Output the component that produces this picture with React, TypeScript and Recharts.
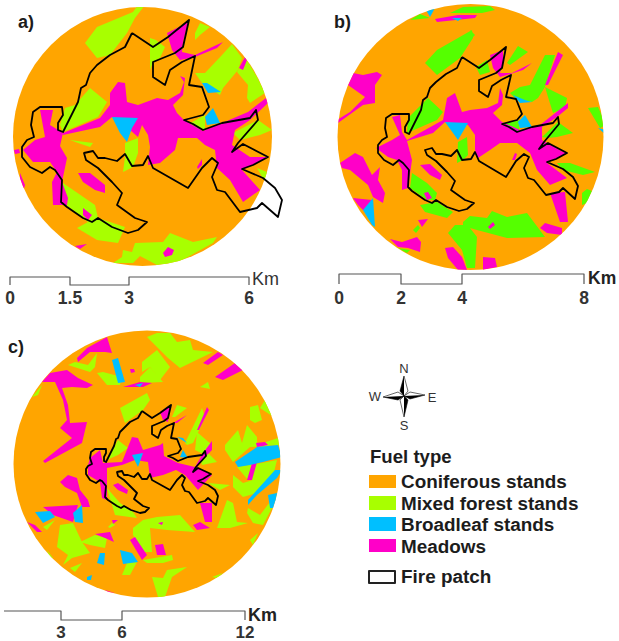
import React from 'react'
import { ScatterChart, Scatter, XAxis, YAxis } from 'recharts'

const WIDTH = 619
const HEIGHT = 641

type Ring = number[][]

const ORANGE = '#FFA500'
const LIME = '#A8FF00'
const BRIGHT_GREEN = '#55FF00'
const BLUE = '#00BFFF'
const MAGENTA = '#FF00C8'

// panel a) map units are picture pixels
const aBase: Ring = [[0, 0], [290, 0], [290, 280], [0, 280]]
const aMixed: Ring[] = [
  [[85, 43], [97, 27], [133, 12], [138, 5], [145, 5], [135, 18], [127, 33], [110, 55], [97, 58]],
  [[90, 88], [107, 102], [98, 117], [63, 132], [60, 125], [65, 108], [75, 105]],
  [[150, 38], [156, 40], [165, 47], [160, 58], [153, 62], [150, 70], [150, 50]],
  [[195, 33], [200, 23], [210, 27], [200, 35], [195, 40]],
  [[195, 73], [205, 73], [222, 55], [232, 44], [242, 58], [238, 70], [223, 88], [220, 95], [202, 83]],
  [[237, 72], [248, 85], [247, 98], [250, 103], [265, 93], [257, 77], [245, 57]],
  [[187, 125], [205, 115], [205, 130], [192, 133]],
  [[233, 133], [258, 120], [272, 130], [260, 135], [240, 140]],
  [[257, 168], [267, 172], [265, 182]],
  [[63, 183], [95, 205], [98, 218], [125, 227], [118, 243], [97, 240], [77, 228], [88, 222], [60, 200]],
  [[122, 257], [123, 250], [132, 252], [135, 243], [163, 242], [170, 233], [193, 242], [217, 237], [213, 243], [177, 263], [157, 265], [140, 256], [133, 263], [113, 263]],
  [[70, 140], [93, 143], [90, 147], [78, 143]],
  [[125, 143], [138, 138], [138, 153], [133, 167], [123, 172], [125, 157]],
]
const aMeadow: Ring[] = [
  [[40, 110], [53, 110], [50, 125], [63, 133], [60, 146], [67, 158], [62, 182], [68, 198], [67, 205], [53, 205], [52, 182], [57, 172], [50, 162], [33, 162], [23, 150], [35, 140], [45, 137]],
  [[63, 133], [100, 118], [110, 105], [110, 93], [118, 82], [125, 83], [127, 102], [138, 105], [157, 98], [168, 100], [180, 93], [184, 82], [180, 76], [185, 78], [183, 95], [173, 105], [177, 113], [184, 120], [203, 131], [222, 123], [248, 112], [266, 98], [268, 103], [250, 120], [235, 130], [232, 145], [250, 157], [268, 157], [242, 170], [260, 190], [243, 202], [230, 180], [217, 168], [215, 150], [205, 145], [197, 138], [178, 138], [175, 150], [160, 163], [148, 165], [150, 147], [148, 135], [142, 125], [138, 137], [130, 130], [112, 117], [100, 127], [63, 135]],
  [[14, 150], [19, 149], [20, 153], [15, 154]],
  [[20, 173], [25, 185], [23, 192], [20, 182]],
  [[78, 173], [90, 173], [105, 185], [105, 193], [95, 190], [83, 182]],
  [[83, 208], [92, 215], [88, 220], [83, 215]],
  [[75, 246], [87, 244], [80, 249]],
  [[163, 253], [168, 247], [174, 250], [172, 255], [165, 257]],
  [[197, 167], [202, 159], [202, 165], [198, 169]],
  [[167, 33], [183, 25], [188, 22], [183, 42], [182, 52], [195, 55], [223, 42], [217, 48], [195, 57], [180, 60], [172, 50]],
  [[245, 57], [247, 60], [243, 70], [239, 68]],
]
const aBroadleaf: Ring[] = [
  [[112, 117], [138, 118], [132, 128], [127, 142], [120, 133]],
  [[202, 83], [207, 83], [221, 92], [208, 93]],
  [[205, 117], [213, 108], [220, 123], [207, 125]],
]
const aFire: Ring = [[132, 33], [125, 47], [110, 55], [97, 65], [90, 73], [86, 85], [81, 88], [78, 102], [63, 132], [58, 130], [58, 123], [63, 115], [62, 107], [40, 107], [33, 112], [31, 125], [34, 137], [27, 140], [22, 147], [22, 157], [30, 167], [42, 173], [50, 167], [55, 170], [62, 180], [61, 202], [67, 207], [83, 218], [92, 222], [98, 218], [112, 227], [128, 233], [138, 230], [147, 222], [135, 218], [117, 205], [122, 193], [112, 182], [98, 168], [86, 160], [84, 153], [93, 151], [98, 158], [105, 158], [117, 161], [125, 154], [132, 166], [143, 165], [148, 156], [153, 168], [188, 188], [202, 168], [212, 158], [218, 163], [212, 177], [217, 190], [225, 192], [240, 212], [257, 208], [262, 203], [278, 217], [282, 200], [275, 188], [263, 178], [242, 169], [253, 165], [268, 157], [243, 144], [232, 152], [238, 143], [258, 120], [256, 110], [250, 118], [222, 123], [203, 130], [193, 124], [184, 120], [203, 115], [209, 107], [202, 87], [189, 85], [195, 56], [182, 62], [170, 70], [165, 85], [153, 77], [153, 62], [175, 53], [183, 47], [189, 20], [168, 37], [153, 47], [132, 33]]

// panel b)
const bBase: Ring = [[320, 0], [619, 0], [619, 285], [320, 285]]
const bMixed: Ring[] = [
  [[425, 63], [437, 50], [472, 30], [473, 38], [460, 58], [437, 75]],
  [[428, 98], [443, 112], [437, 120], [407, 133], [408, 118]],
  [[410, 20], [420, 14], [430, 18]],
  [[450, 13], [463, 7], [490, 6], [495, 10], [482, 13]],
  [[507, 63], [518, 46], [528, 52], [510, 65]],
  [[510, 93], [520, 87], [530, 85], [545, 55], [555, 55], [545, 87], [538, 98], [532, 102], [515, 98]],
  [[545, 87], [567, 98], [565, 108], [553, 113], [548, 97]],
  [[470, 30], [475, 35], [470, 40]],
  [[588, 108], [598, 107], [606, 125], [600, 128]],
  [[503, 123], [520, 120], [519, 132], [510, 135]],
  [[542, 137], [558, 122], [573, 133], [557, 137], [548, 138]],
  [[476, 67], [487, 60], [490, 72], [480, 75]],
  [[557, 163], [570, 163], [595, 172], [583, 175], [563, 170]],
  [[582, 193], [587, 189], [592, 191], [587, 203], [582, 205]],
  [[412, 173], [427, 183], [437, 193], [435, 200], [427, 200], [410, 188]],
  [[420, 205], [437, 202], [453, 212], [447, 218], [425, 212]],
  [[463, 222], [470, 216], [487, 218], [492, 211], [507, 217], [527, 213], [545, 237], [507, 238], [477, 230], [470, 228], [477, 237], [475, 268], [467, 268], [462, 250], [448, 233], [455, 225], [463, 225]],
  [[413, 230], [418, 225], [420, 228], [416, 233]],
  [[398, 248], [410, 250], [407, 253]],
  [[458, 142], [467, 137], [468, 155], [463, 160], [457, 163]],
]
const bMeadow: Ring[] = [
  [[337, 120], [350, 112], [365, 97], [348, 85], [353, 73], [363, 75], [377, 72], [382, 75], [375, 85], [375, 103], [363, 105], [338, 123]],
  [[392, 117], [400, 115], [402, 132], [407, 140], [443, 120], [447, 98], [455, 93], [462, 112], [470, 110], [487, 108], [498, 103], [500, 88], [503, 95], [502, 105], [493, 113], [502, 122], [520, 130], [540, 125], [568, 103], [568, 108], [557, 117], [542, 127], [542, 140], [563, 152], [568, 153], [547, 163], [567, 178], [550, 185], [537, 170], [530, 153], [517, 143], [500, 143], [490, 150], [478, 158], [475, 150], [475, 135], [468, 125], [445, 122], [433, 133], [407, 141], [412, 160], [408, 188], [402, 190], [402, 170], [397, 160], [388, 157], [376, 148], [392, 140], [400, 135]],
  [[420, 165], [430, 164], [442, 175], [440, 180], [430, 175]],
  [[424, 193], [428, 192], [432, 198], [427, 200]],
  [[512, 160], [515, 153], [517, 154], [515, 160]],
  [[488, 227], [493, 222], [495, 225], [490, 229]],
  [[340, 163], [355, 153], [363, 157], [372, 175], [380, 167], [378, 180], [385, 193], [383, 203], [373, 197], [368, 185], [350, 170], [342, 168]],
  [[353, 198], [372, 200], [365, 212], [358, 205]],
  [[418, 220], [428, 219], [422, 227]],
  [[390, 239], [402, 242], [417, 237], [421, 242], [420, 252], [408, 248], [398, 247]],
  [[445, 248], [453, 247], [462, 257], [467, 270], [458, 270], [448, 258]],
  [[483, 257], [495, 258], [497, 267], [483, 270]],
  [[540, 228], [545, 223], [562, 228], [562, 235], [547, 233]],
  [[550, 193], [565, 192], [568, 222], [560, 222]],
  [[490, 55], [503, 50], [503, 62], [500, 73], [512, 73], [532, 63], [523, 70], [507, 75], [500, 77], [493, 68]],
  [[545, 85], [558, 52], [563, 55], [548, 85]],
  [[435, 19], [458, 15], [470, 15], [477, 15], [475, 18], [437, 22]],
]
const bBroadleaf: Ring[] = [
  [[426, 10], [435, 8], [430, 17]],
  [[452, 18], [462, 18], [458, 21]],
  [[445, 122], [468, 123], [458, 140], [453, 133]],
  [[513, 95], [525, 100], [532, 102], [520, 103]],
  [[518, 122], [525, 115], [532, 127], [520, 128]],
  [[363, 210], [373, 198], [375, 227], [372, 225]],
  [[598, 128], [606, 130], [606, 135]],
]
const bFire: Ring = [[462, 57], [457, 68], [446, 74], [436, 82], [430, 88], [427, 97], [423, 100], [421, 110], [409, 134], [405, 132], [405, 127], [409, 120], [409, 114], [392, 114], [386, 118], [385, 128], [387, 137], [382, 140], [378, 145], [378, 153], [384, 160], [393, 165], [399, 160], [403, 163], [409, 170], [408, 187], [412, 191], [425, 200], [432, 203], [436, 200], [447, 207], [459, 211], [467, 209], [474, 203], [465, 200], [451, 190], [455, 181], [447, 172], [436, 161], [427, 155], [425, 150], [432, 148], [436, 154], [442, 154], [451, 156], [457, 150], [462, 160], [471, 159], [475, 152], [479, 161], [506, 177], [516, 161], [524, 154], [529, 157], [524, 168], [528, 178], [534, 180], [546, 195], [559, 192], [563, 188], [575, 199], [578, 186], [573, 177], [563, 169], [547, 162], [556, 159], [567, 153], [548, 143], [539, 149], [544, 142], [559, 124], [558, 117], [553, 123], [532, 127], [517, 132], [509, 127], [502, 124], [517, 120], [522, 114], [516, 99], [506, 97], [511, 75], [501, 80], [492, 86], [488, 97], [479, 91], [479, 80], [496, 73], [502, 68], [506, 47], [490, 60], [479, 68], [462, 57]]

// panel c)
const cBase: Ring = [[0, 320], [300, 320], [300, 610], [0, 610]]
const cMixed: Ring[] = [
  [[147, 337], [157, 333], [170, 333], [177, 342], [190, 340], [193, 350], [213, 352], [180, 368], [168, 358], [153, 343]],
  [[142, 362], [157, 350], [170, 367], [160, 380], [150, 367], [142, 372]],
  [[150, 367], [163, 382], [140, 383], [140, 377]],
  [[68, 365], [75, 362], [88, 365], [97, 353], [95, 367], [90, 372]],
  [[97, 373], [103, 372], [122, 377], [120, 385], [107, 385]],
  [[120, 408], [147, 393], [150, 400], [143, 410], [125, 423]],
  [[107, 460], [118, 440], [128, 448], [118, 455]],
  [[32, 397], [42, 385], [38, 395]],
  [[200, 387], [208, 382], [210, 389]],
  [[172, 417], [177, 405], [187, 408], [175, 417]],
  [[185, 443], [202, 408], [205, 418], [193, 443], [187, 445]],
  [[197, 432], [212, 445], [205, 455], [195, 450]],
  [[200, 458], [207, 452], [217, 462], [202, 465]],
  [[250, 407], [258, 405], [262, 420], [255, 423], [250, 420]],
  [[260, 408], [265, 400], [275, 418]],
  [[225, 445], [238, 430], [242, 443], [247, 425], [257, 437], [257, 445], [278, 438], [282, 445], [250, 447], [233, 462], [225, 450]],
  [[237, 467], [267, 462], [277, 460], [272, 480], [248, 480]],
  [[233, 475], [243, 483], [262, 477], [275, 470], [257, 493], [243, 497], [233, 487]],
  [[247, 513], [248, 508], [260, 515], [270, 502], [272, 508], [263, 525], [253, 523]],
  [[217, 528], [227, 500], [233, 503], [237, 522], [248, 523], [230, 528]],
  [[208, 483], [230, 485], [220, 490]],
  [[250, 540], [258, 533], [253, 545]],
  [[212, 577], [223, 573], [217, 578]],
  [[152, 577], [163, 578], [167, 570], [187, 567], [172, 577], [165, 597], [158, 597]],
  [[122, 575], [127, 563], [137, 562], [130, 575]],
  [[143, 560], [172, 555], [173, 560], [163, 563], [147, 563]],
  [[133, 528], [143, 520], [157, 517], [180, 515], [195, 532], [167, 530], [150, 528], [152, 552], [143, 552], [133, 535]],
  [[80, 542], [95, 535], [107, 538], [105, 548], [90, 545]],
  [[57, 547], [60, 525], [73, 523], [82, 542], [90, 553], [72, 558], [63, 565], [68, 555]],
  [[70, 568], [82, 563], [75, 572]],
  [[43, 527], [55, 520], [47, 530]],
  [[47, 550], [53, 558], [50, 558]],
  [[108, 527], [113, 522], [115, 525], [110, 528]],
  [[107, 488], [120, 503], [133, 512], [137, 518], [115, 515]],
]
const cMeadow: Ring[] = [
  [[77, 358], [87, 348], [107, 337], [112, 353], [105, 352], [90, 352], [78, 362]],
  [[42, 382], [50, 373], [67, 370], [78, 378], [93, 385], [87, 388], [72, 387], [62, 388], [68, 405], [70, 423], [87, 422], [82, 443], [45, 463], [43, 461], [72, 438], [60, 428], [67, 420], [63, 400], [55, 382]],
  [[130, 369], [134, 369], [135, 372], [131, 373]],
  [[123, 387], [140, 382], [152, 383], [143, 387]],
  [[203, 363], [218, 352], [223, 355], [208, 365]],
  [[215, 377], [235, 363], [243, 370], [223, 380]],
  [[197, 430], [207, 407], [209, 410], [199, 430]],
  [[160, 412], [170, 405], [168, 422], [163, 420]],
  [[173, 423], [187, 415], [177, 423]],
  [[90, 458], [100, 450], [103, 463], [122, 462], [132, 437], [138, 438], [143, 450], [160, 445], [163, 443], [164, 456], [178, 463], [195, 467], [203, 453], [212, 441], [212, 450], [200, 462], [197, 467], [212, 475], [198, 490], [192, 483], [185, 475], [176, 470], [163, 475], [150, 478], [148, 462], [135, 460], [122, 465], [107, 468], [107, 480], [107, 500], [102, 498], [100, 482], [88, 475], [88, 465]],
  [[60, 482], [68, 475], [77, 478], [80, 490], [88, 500], [90, 507], [82, 507], [77, 493], [65, 487]],
  [[113, 485], [118, 483], [128, 490], [127, 494], [118, 490]],
  [[43, 507], [78, 505], [73, 522], [53, 515]],
  [[27, 522], [35, 525], [42, 532], [37, 532]],
  [[112, 520], [118, 520], [113, 524]],
  [[95, 534], [110, 532], [114, 542], [105, 538]],
  [[130, 540], [135, 537], [147, 555], [142, 560]],
  [[155, 545], [163, 544], [166, 555], [157, 555]],
  [[158, 523], [163, 522], [162, 525]],
  [[193, 525], [200, 522], [210, 528], [197, 530]],
  [[200, 503], [212, 503], [212, 522], [205, 522]],
  [[105, 590], [115, 593], [107, 592]],
  [[247, 480], [255, 453], [259, 455], [252, 480]],
  [[256, 443], [265, 442], [268, 445], [257, 447]],
]
const cBroadleaf: Ring[] = [
  [[112, 360], [118, 358], [125, 382], [118, 383]],
  [[132, 455], [143, 453], [138, 467]],
  [[135, 385], [143, 383], [140, 387]],
  [[35, 512], [50, 511], [55, 517], [43, 523]],
  [[73, 513], [82, 505], [83, 523], [75, 522]],
  [[120, 550], [132, 553], [138, 562], [123, 564]],
  [[97, 563], [100, 553], [105, 553], [104, 565]],
  [[87, 577], [92, 575], [91, 580], [87, 580]],
  [[177, 437], [183, 438], [187, 443]],
  [[180, 457], [183, 450], [188, 458]],
  [[235, 462], [257, 447], [278, 445], [282, 457], [263, 462], [250, 465], [238, 467]],
  [[248, 505], [257, 495], [277, 478], [282, 470], [275, 470], [248, 500]],
  [[268, 495], [277, 493], [275, 508], [270, 508]],
]
const cFire: Ring = [[142, 411], [138, 418], [130, 422], [124, 428], [120, 432], [118, 438], [116, 439], [114, 446], [106, 462], [104, 461], [104, 457], [106, 453], [106, 449], [95, 449], [91, 452], [90, 458], [92, 464], [88, 466], [86, 469], [86, 474], [90, 480], [96, 483], [100, 480], [102, 481], [106, 486], [105, 497], [108, 500], [117, 506], [121, 508], [124, 506], [131, 510], [140, 513], [145, 512], [149, 508], [143, 506], [134, 499], [137, 493], [131, 487], [124, 480], [118, 476], [117, 472], [122, 471], [124, 475], [128, 475], [134, 477], [138, 473], [142, 479], [147, 479], [150, 474], [152, 480], [170, 490], [177, 480], [182, 475], [185, 478], [182, 485], [185, 491], [189, 492], [197, 503], [205, 501], [208, 498], [216, 505], [218, 496], [215, 490], [208, 485], [198, 481], [203, 479], [211, 474], [198, 468], [193, 472], [196, 467], [206, 456], [205, 451], [202, 455], [188, 457], [178, 461], [173, 458], [168, 456], [178, 453], [181, 449], [177, 439], [171, 438], [174, 423], [167, 426], [161, 430], [158, 438], [152, 434], [152, 426], [164, 421], [168, 418], [171, 405], [160, 413], [152, 418], [142, 411]]

// scale bars
const aScaleBar: Ring = [[10, 285], [10, 277], [70, 277], [70, 285], [129, 285], [129, 277], [249, 277], [249, 285]]
const bScaleBar: Ring = [[339, 284], [339, 274], [401, 274], [401, 284], [462, 284], [462, 274], [584, 274], [584, 284]]
const cScaleBar: Ring = [[4, 611], [61, 611], [61, 620], [122, 620], [122, 611], [245, 611], [245, 620]]

// north arrow, half of each spike is dark
const compassDark: Ring[] = [
  [[404, 376], [400, 391], [404, 396]],
  [[425, 395], [410, 399], [404, 396]],
  [[404, 417], [408, 400], [404, 396]],
  [[383, 397], [398, 400], [404, 396]],
]
const compassLight: Ring[] = [
  [[404, 376], [408, 391], [404, 396]],
  [[425, 395], [410, 392], [404, 396]],
  [[404, 417], [400, 400], [404, 396]],
  [[383, 397], [398, 392], [404, 396]],
]

const legendNames = ['Coniferous stands', 'Mixed forest stands', 'Broadleaf stands', 'Meadows']
const legendColors = [ORANGE, LIME, BLUE, MAGENTA]
const legendRows = [482, 504, 525, 547]
const legendBoxes = [[475, 13], [496, 14], [517, 14], [539, 13]]

const aTicks = [['0', 10], ['1.5', 70], ['3', 129], ['6', 249]]
const bTicks = [['0', 339], ['2', 401], ['4', 462], ['8', 584]]
const cTicks = [['3', 61], ['6', 122], ['12', 245]]

const toPoints = (ring: Ring) => ring.map(([x, y]) => ({ x, y }))

interface Shape {
  ring: Ring
  fill: string
  stroke?: string
  strokeWidth?: number
}

const fills = (rings: Ring[], fill: string): Shape[] => rings.map(ring => ({ ring, fill }))
const lines = (rings: Ring[], stroke: string, strokeWidth: number): Shape[] =>
  rings.map(ring => ({ ring, fill: 'none', stroke, strokeWidth }))

function MapLayer({ shapes, clip }: { shapes: Shape[]; clip?: string }) {
  return (
    <div style={{ position: 'absolute', left: 0, top: 0, clipPath: clip }}>
      <ScatterChart width={WIDTH} height={HEIGHT} margin={{ top: 0, right: 0, bottom: 0, left: 0 }}>
        <XAxis type="number" dataKey="x" domain={[0, WIDTH]} hide />
        <YAxis type="number" dataKey="y" domain={[0, HEIGHT]} reversed hide />
        {shapes.map((s, i) => (
          <Scatter
            key={i}
            data={toPoints(s.ring)}
            isAnimationActive={false}
            shape={() => <g />}
            line={{ fill: s.fill, stroke: s.stroke ?? 'none', strokeWidth: s.strokeWidth ?? 0, strokeLinejoin: 'round' }}
          />
        ))}
      </ScatterChart>
    </div>
  )
}

function Label({ x, y, children, size, bold = true, center, color = '#1c1c1c' }: any) {
  return (
    <div
      style={{
        position: 'absolute',
        left: x,
        top: y,
        transform: center ? 'translate(-50%, -50%)' : 'translateY(-50%)',
        fontFamily: '"Liberation Sans", Arial, sans-serif',
        fontSize: size,
        fontWeight: bold ? 700 : 400,
        color,
        whiteSpace: 'nowrap',
        lineHeight: 1,
      }}
    >
      {children}
    </div>
  )
}

export default function App() {
  const overlay: Shape[] = [
    ...lines([aFire, bFire, cFire], '#000000', 1.8),
    ...lines([aScaleBar, bScaleBar, cScaleBar], '#555555', 1.2),
    ...compassLight.map(ring => ({ ring, fill: '#ffffff', stroke: '#000000', strokeWidth: 0.6 })),
    ...compassDark.map(ring => ({ ring, fill: '#000000', stroke: '#000000', strokeWidth: 0.6 })),
  ]

  return (
    <div style={{ position: 'absolute', left: 0, top: 0, width: WIDTH, height: HEIGHT, background: '#fff', overflow: 'hidden' }}>
      <MapLayer
        clip="circle(129.5px at 142.5px 136.5px)"
        shapes={[...fills([aBase], ORANGE), ...fills(aMixed, LIME), ...fills(aMeadow, MAGENTA), ...fills(aBroadleaf, BLUE)]}
      />
      <MapLayer
        clip="circle(133px at 470.5px 137px)"
        shapes={[...fills([bBase], ORANGE), ...fills(bMixed, BRIGHT_GREEN), ...fills(bMeadow, MAGENTA), ...fills(bBroadleaf, BLUE)]}
      />
      <MapLayer
        clip="circle(133.5px at 147px 464px)"
        shapes={[...fills([cBase], ORANGE), ...fills(cMixed, LIME), ...fills(cMeadow, MAGENTA), ...fills(cBroadleaf, BLUE)]}
      />
      <MapLayer shapes={overlay} />

      <Label x={18} y={22} size={18}>a)</Label>
      <Label x={334} y={22} size={18}>b)</Label>
      <Label x={8} y={347} size={18}>c)</Label>

      {aTicks.map(([t, x]) => <Label key={t} x={x} y={299} size={17.5} center color="#333">{t}</Label>)}
      <Label x={252} y={279} size={18} bold={false} color="#333">Km</Label>
      {bTicks.map(([t, x]) => <Label key={t} x={x} y={299} size={17.5} center color="#333">{t}</Label>)}
      <Label x={588} y={279} size={17.5} color="#222">Km</Label>
      {cTicks.map(([t, x]) => <Label key={t} x={x} y={632} size={17} center color="#333">{t}</Label>)}
      <Label x={248} y={615} size={18} color="#222">Km</Label>

      <Label x={404} y={368} size={13} bold={false} center color="#333">N</Label>
      <Label x={375} y={396} size={13} bold={false} center color="#333">W</Label>
      <Label x={432} y={397} size={13} bold={false} center color="#333">E</Label>
      <Label x={404} y={425} size={13} bold={false} center color="#333">S</Label>

      <Label x={370} y={457} size={18.6}>Fuel type</Label>
      {legendNames.map((name, i) => (
        <React.Fragment key={name}>
          <div style={{ position: 'absolute', left: 369, top: legendBoxes[i][0], width: 27, height: legendBoxes[i][1], background: legendColors[i] }} />
          <Label x={401} y={legendRows[i]} size={18.9}>{name}</Label>
        </React.Fragment>
      ))}
      <div style={{ position: 'absolute', left: 368, top: 570, width: 24, height: 10, border: '2px solid #222', borderRadius: 1, background: '#fff' }} />
      <Label x={401} y={577} size={18.9}>Fire patch</Label>
    </div>
  )
}
